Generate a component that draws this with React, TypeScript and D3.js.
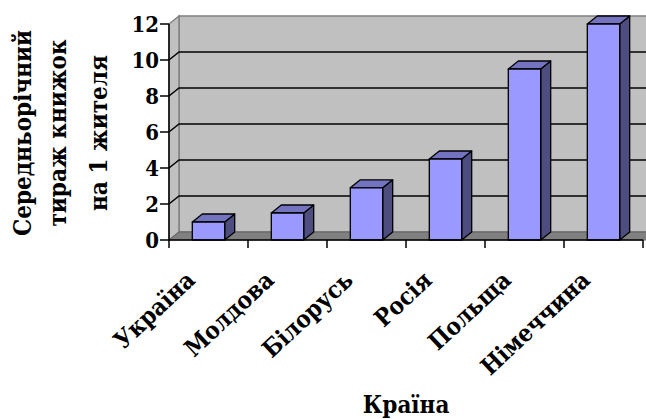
import React from "react";
import { scaleLinear, scaleBand } from "d3";

const countries = ["Україна", "Молдова", "Білорусь", "Росія", "Польща", "Німеччина"];
const values = [1, 1.5, 2.9, 4.5, 9.5, 12];
const yTicks = [0, 2, 4, 6, 8, 10, 12];
const yTitle = ["Середньорічний", "тираж книжок", "на 1 жителя"];
const xTitle = "Країна";

const W = 646;
const H = 419;
const left = 169;
const right = 643;
const bottom = 240;
const top = 24;
const dx = 10;
const dy = -8;
const sx = 0.9; // narrow the wide DejaVu Serif glyphs a little
const txt: React.CSSProperties = { fontFamily: "DejaVu Serif", fontWeight: 700 };

export default function App() {
  const y = scaleLinear().domain([0, 12]).range([bottom, top]);
  const x = scaleBand<string>().domain(countries).range([left, right]).padding(0);
  const bw = x.bandwidth() * 0.41;
  const bounds = [...countries.map((c) => x(c) as number), right];

  const bar = (c: string, v: number, i: number) => {
    const cx = (x(c) as number) + x.bandwidth() / 2;
    const x0 = cx - bw / 2;
    const x1 = cx + bw / 2;
    const yt = y(v);
    const yb = y(0);
    return (
      <g key={i} stroke="#000" strokeWidth={1.3} strokeLinejoin="round">
        <polygon
          points={`${x1},${yb} ${x1 + dx},${yb + dy} ${x1 + dx},${yt + dy} ${x1},${yt}`}
          fill="#4d4d80"
        />
        <polygon
          points={`${x0},${yt} ${x1},${yt} ${x1 + dx},${yt + dy} ${x0 + dx},${yt + dy}`}
          fill="#7373c0"
        />
        <rect x={x0} y={yt} width={bw} height={yb - yt} fill="#9999ff" />
      </g>
    );
  };

  return (
    <svg width={W} height={H} style={{ position: "absolute", left: 0, top: 0 }}>
      <rect width={W} height={H} fill="#fff" />
      {/* back wall */}
      <rect
        x={left + dx}
        y={top + dy}
        width={W}
        height={bottom - top}
        fill="#c0c0c0"
        stroke="#808080"
        strokeWidth={1.5}
      />
      {/* side wall */}
      <polygon
        points={`${left},${bottom} ${left},${top} ${left + dx},${top + dy} ${left + dx},${bottom + dy}`}
        fill="#c0c0c0"
        stroke="#808080"
        strokeWidth={1.5}
      />
      {/* floor */}
      <polygon
        points={`${left},${bottom} ${W + 20},${bottom} ${W + 20},${bottom + dy} ${left + dx},${bottom + dy}`}
        fill="#808080"
        stroke="#606060"
        strokeWidth={1}
      />
      {/* gridlines */}
      {yTicks
        .filter((t) => t > 0 && t < 12)
        .map((t) => (
          <polyline
            key={t}
            points={`${left},${y(t)} ${left + dx},${y(t) + dy} ${W},${y(t) + dy}`}
            fill="none"
            stroke="#000"
            strokeWidth={1.5}
          />
        ))}
      {countries.map((c, i) => bar(c, values[i], i))}
      {/* axes */}
      <line x1={left} x2={left} y1={top} y2={bottom} stroke="#000" strokeWidth={1.5} />
      <line x1={left} x2={right} y1={bottom} y2={bottom} stroke="#000" strokeWidth={1.5} />
      {yTicks.map((t) => (
        <g key={t}>
          <line x1={left - 9} x2={left} y1={y(t)} y2={y(t)} stroke="#000" strokeWidth={1.5} />
          <text
            transform={`translate(${left - 10},${y(t)}) scale(${sx},1)`}
            dy="0.36em"
            textAnchor="end"
            style={txt}
            fontSize={22}
          >
            {t}
          </text>
        </g>
      ))}
      {bounds.map((b, i) => (
        <line key={i} x1={b} x2={b} y1={bottom} y2={bottom + 8} stroke="#000" strokeWidth={1.5} />
      ))}
      {countries.map((c, i) => {
        const cx = (x(c) as number) + x.bandwidth() / 2 - 12;
        return (
          <text
            key={i}
            transform={`translate(${cx},282) rotate(-43) scale(${sx},1)`}
            textAnchor="end"
            style={txt}
            fontSize={24}
          >
            {c}
          </text>
        );
      })}
      <text
        transform={`translate(406,413) scale(${sx},1)`}
        textAnchor="middle"
        style={txt}
        fontSize={24}
      >
        {xTitle}
      </text>
      {yTitle.map((line, i) => (
        <text
          key={i}
          transform={`translate(${[30.5, 65.5, 107][i]},133) rotate(-90) scale(${sx},1)`}
          textAnchor="middle"
          style={txt}
          fontSize={24}
        >
          {line}
        </text>
      ))}
    </svg>
  );
}
